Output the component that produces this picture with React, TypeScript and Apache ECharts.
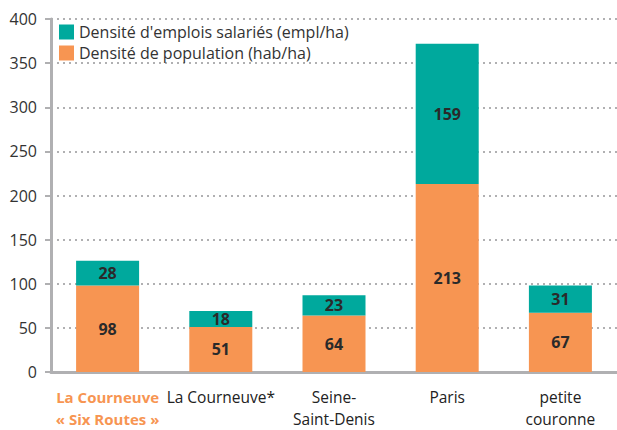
import React, { useEffect, useRef } from "react";
import * as echarts from "echarts";

const categories = ["La Courneuve\n« Six Routes »", "La Courneuve*", "Seine-\nSaint-Denis", "Paris", "petite\ncouronne"];
const population = [98, 51, 64, 213, 67];
const emplois = [28, 18, 23, 159, 31];
const yTicks = [0, 50, 100, 150, 200, 250, 300, 350, 400];

const FONT = "'Open Sans', 'Noto Sans', sans-serif";
const ORANGE = "#F79552";
const TEAL = "#00A99D";

export default function App() {
  const ref = useRef<HTMLDivElement>(null);
  useEffect(() => {
    if (!ref.current) return;
    const chart = echarts.init(ref.current, null, { renderer: "svg" });
    const labelStyle = {
      show: true,
      position: "inside" as const,
      fontFamily: FONT,
      fontSize: 16,
      fontWeight: "bold" as const,
      color: "#2a2a2a",
    };
    chart.setOption({
      animation: false,
      textStyle: { fontFamily: FONT },
      grid: { left: 51, right: -6, top: 19, bottom: 52, containLabel: false },
      legend: {
        orient: "vertical",
        left: 54,
        top: 19,
        itemWidth: 15,
        itemHeight: 15,
        itemGap: 5,
        icon: "rect",
        textStyle: { fontFamily: FONT, fontSize: 16, color: "#333" },
        data: ["Densité d'emplois salariés (empl/ha)", "Densité de population (hab/ha)"],
      },
      xAxis: {
        type: "category",
        data: categories,
        axisLine: { lineStyle: { color: "#b0b0b2", width: 3 } },
        axisTick: { show: false },
        axisLabel: {
          interval: 0,
          margin: 14,
          fontFamily: FONT,
          fontSize: 15.5,
          lineHeight: 22,
          color: "#222",
          formatter: (v: string, i: number) => (i === 0 ? `{hl|${v.split("\n").join("}\n{hl|")}}` : v),
          rich: {
            hl: { color: ORANGE, fontWeight: "bold", fontSize: 15, lineHeight: 22, fontFamily: FONT },
          },
        },
      },
      yAxis: {
        type: "value",
        min: yTicks[0],
        max: yTicks[yTicks.length - 1],
        interval: 50,
        axisLine: { show: true, lineStyle: { color: "#b0b0b2", width: 3 } },
        axisTick: { show: true, length: 6, lineStyle: { color: "#b0b0b2", width: 2 } },
        axisLabel: { fontFamily: FONT, fontSize: 16, color: "#333", margin: 14 },
        splitLine: { lineStyle: { color: "#b0b0b2", type: [2, 4], width: 2 } },
      },
      series: [
        {
          name: "Densité de population (hab/ha)",
          type: "bar",
          stack: "total",
          barWidth: 63,
          data: population,
          itemStyle: { color: ORANGE },
          label: labelStyle,
        },
        {
          name: "Densité d'emplois salariés (empl/ha)",
          type: "bar",
          stack: "total",
          barWidth: 63,
          data: emplois,
          itemStyle: { color: TEAL },
          label: labelStyle,
        },
      ],
    });
    return () => chart.dispose();
  }, []);
  return <div ref={ref} style={{ width: 617, height: 430, position: "absolute", left: 0, top: 0, background: "#fff" }} />;
}
